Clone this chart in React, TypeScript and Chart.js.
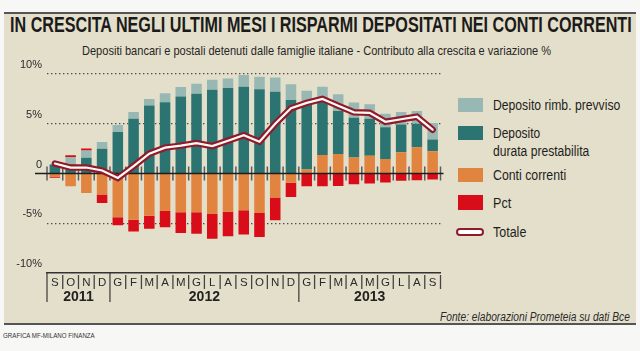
import React, { useEffect, useLayoutEffect, useRef, useState } from 'react';
import { Chart, registerables } from 'chart.js';

Chart.register(...registerables);

// ---------- DATA ----------
const months = ['S', 'O', 'N', 'D', 'G', 'F', 'M', 'A', 'M', 'G', 'L', 'A', 'S', 'O', 'N', 'D', 'G', 'F', 'M', 'A', 'M', 'G', 'L', 'A', 'S'];
const years = ['2011', '2012', '2013'];
const monthsPerYear = [4, 12, 9];

const contiCorrenti = [-0.35, -1.28, -1.95, -2.12, -4.4, -4.65, -4.25, -3.78, -3.9, -3.9, -4.07, -3.85, -3.69, -3.96, -2.42, -0.94, 0.4, 1.85, 1.96, 1.62, 1.79, 1.45, 2.13, 2.64, 2.23];
const depositoDurata = [0.9, 0.9, 1.58, 2.5, 4.17, 5.5, 6.83, 7.17, 7.75, 8.02, 8.42, 8.6, 8.72, 8.46, 8.22, 7.38, 6.75, 5.77, 4.32, 3.98, 3.71, 3.21, 2.8, 2.36, 1.18];
const depositoPreavviso = [0, 0.77, 0.74, 0.67, 0.7, 0.67, 0.67, 0.9, 0.95, 1.0, 1.0, 0.95, 1.18, 1.27, 1.44, 1.58, 1.17, 1.1, 1.69, 1.53, 1.46, 1.35, 1.25, 1.28, 1.66];
const pct = [-0.08, 0.17, 0.2, -0.84, -0.8, -1.18, -1.3, -1.63, -2.08, -2.15, -2.5, -2.45, -2.45, -2.42, -2.28, -1.41, -1.28, -1.28, -1.25, -1.08, -1.01, -0.91, -0.74, -0.68, -0.61];
const totale = [1.0, 0.6, 0.6, 0.3, -0.45, 0.75, 2.0, 2.6, 2.8, 3.05, 2.75, 3.3, 3.85, 3.2, 5.0, 6.55, 7.1, 7.5, 6.8, 6.15, 6.1, 5.2, 5.45, 5.7, 4.4];

const yMin = -10;
const yMax = 10;
const yStep = 5;

// ---------- STYLE ----------
const C_LIGHT = '#97b8b3';
const C_TEAL = '#2b7471';
const C_ORANGE = '#e0843f';
const C_RED = '#d80d19';
const C_LINE = '#8e1a2c';
const C_LINE_IN = '#fff9f4';
const BEIGE = '#e4dfca';
const FONT = '"Liberation Sans", Arial, sans-serif';
const CFONT = '"Liberation Sans Narrow", "Liberation Sans", Arial, sans-serif';

const decor = {
  id: 'decor',
  beforeDatasetDraw(chart: any, args: any) {
    if (args.index !== 5) return;
    const { ctx, chartArea, scales } = chart;
    const x = scales.x;
    const y = scales.y;
    const zy = y.getPixelForValue(0);
    const c0 = x.getPixelForValue(0);
    const w = x.getPixelForValue(1) - c0;
    ctx.save();
    ctx.strokeStyle = '#5c5c5c';
    ctx.lineWidth = 1.5;
    for (let k = 0; k <= months.length; k++) {
      const bx = c0 - w / 2 + w * k;
      ctx.beginPath();
      ctx.moveTo(bx, zy - 7);
      ctx.lineTo(bx, zy + 7);
      ctx.stroke();
    }
    ctx.strokeStyle = '#1e1e1e';
    ctx.lineWidth = 1.6;
    ctx.beginPath();
    ctx.moveTo(chartArea.left - 12, zy);
    ctx.lineTo(chartArea.right + 3, zy);
    ctx.stroke();
    ctx.restore();
  },
  afterDraw(chart: any) {
    const { ctx, chartArea, scales } = chart;
    const x = scales.x;
    const c0 = x.getPixelForValue(0);
    const w = x.getPixelForValue(1) - c0;
    const b = chartArea.bottom;
    const yearBounds: number[] = [0];
    monthsPerYear.forEach((n, i) => yearBounds.push(yearBounds[i] + n));
    ctx.save();
    ctx.strokeStyle = '#444';
    ctx.lineWidth = 1.3;
    for (let k = 0; k <= months.length; k++) {
      const bx = c0 - w / 2 + w * k;
      const isYear = yearBounds.indexOf(k) >= 0 && k < months.length;
      ctx.beginPath();
      if (isYear) {
        ctx.moveTo(bx, b);
        ctx.lineTo(bx, b + 29);
      } else {
        ctx.moveTo(bx, b + 2);
        ctx.lineTo(bx, b + 16);
      }
      ctx.stroke();
    }
    ctx.fillStyle = '#222';
    ctx.font = 'bold 14px ' + FONT;
    ctx.textAlign = 'center';
    ctx.textBaseline = 'middle';
    years.forEach((yr, i) => {
      const l = c0 - w / 2 + w * yearBounds[i];
      const r = c0 - w / 2 + w * yearBounds[i + 1];
      ctx.fillText(yr, (l + r) / 2, b + 24.5);
    });
    ctx.restore();
  },
};

function ChartCanvas() {
  const ref = useRef<HTMLCanvasElement>(null);
  useEffect(() => {
    if (!ref.current) return;
    const barCommon = { stack: 'bars', order: 1, barPercentage: 0.67, categoryPercentage: 1.0, borderWidth: 0 };
    const chart = new Chart(ref.current, {
      type: 'bar',
      data: {
        labels: months,
        datasets: [
          { ...barCommon, type: 'bar', label: 'Conti correnti', data: contiCorrenti, backgroundColor: C_ORANGE },
          { ...barCommon, type: 'bar', label: 'Deposito durata prestabilita', data: depositoDurata, backgroundColor: C_TEAL },
          { ...barCommon, type: 'bar', label: 'Deposito rimb. prevviso', data: depositoPreavviso, backgroundColor: C_LIGHT },
          { ...barCommon, type: 'bar', label: 'Pct', data: pct, backgroundColor: C_RED },
          {
            type: 'line', label: 'Totale (interno)', data: totale, stack: 'l1', order: -1,
            borderColor: C_LINE_IN, borderWidth: 2.2, pointRadius: 0, tension: 0,
            borderCapStyle: 'round', borderJoinStyle: 'miter', fill: false,
          },
          {
            type: 'line', label: 'Totale', data: totale, stack: 'l2', order: 0,
            borderColor: C_LINE, borderWidth: 6.5, pointRadius: 0, tension: 0,
            borderCapStyle: 'round', borderJoinStyle: 'miter', fill: false,
          },
        ] as any,
      },
      options: {
        animation: false,
        responsive: false,
        devicePixelRatio: 1,
        layout: { padding: { left: 0, right: 14.5, top: 19, bottom: 7 } },
        plugins: { legend: { display: false }, tooltip: { enabled: false } },
        scales: {
          x: {
            type: 'category',
            stacked: true,
            offset: true,
            grid: { display: false, drawTicks: false },
            border: { display: true, color: '#333', width: 1.5 },
            ticks: {
              color: '#2a2a2a',
              font: { family: CFONT, size: 11.5 },
              padding: 2.5,
              maxRotation: 0,
              autoSkip: false,
            },
            afterFit: (s: any) => { s.height = 30; },
          },
          y: {
            stacked: true,
            min: yMin,
            max: yMax,
            ticks: {
              stepSize: yStep,
              labelOffset: -9,
              padding: 5,
              color: '#2a2a2a',
              font: { family: CFONT, size: 11 },
              callback: (v: any) => (Number(v) === 0 ? '0' : `${v}%`),
            },
            grid: {
              drawTicks: false,
              lineWidth: 1.2,
              color: (c: any) => (c.tick && (c.tick.value === 0 || c.tick.value === yMin) ? 'rgba(0,0,0,0)' : '#4a4a4a'),
            },
            border: { display: false, dash: [1.4, 2.6] },
            afterFit: (s: any) => { s.width = 47; },
          },
        },
      } as any,
      plugins: [decor],
    });
    return () => chart.destroy();
  }, []);
  return (
    <canvas
      ref={ref}
      width={455}
      height={255}
      style={{ position: 'absolute', left: 0, top: 55, width: 455, height: 255 }}
    />
  );
}

function FitText(props: {
  text: string; left: number; top: number; width: number; fontSize: number;
  weight?: number; italic?: boolean; color?: string;
}) {
  const { text, left, top, width, fontSize, weight = 400, italic = false, color = '#222' } = props;
  const ref = useRef<HTMLSpanElement>(null);
  const [scale, setScale] = useState(1);
  useLayoutEffect(() => {
    if (ref.current) {
      const w = ref.current.offsetWidth;
      if (w > 0) setScale(width / w);
    }
  }, [text, width, fontSize]);
  return (
    <div style={{ position: 'absolute', left, top, height: fontSize, lineHeight: `${fontSize}px`, whiteSpace: 'nowrap' }}>
      <span
        ref={ref}
        style={{
          display: 'inline-block', fontFamily: FONT, fontSize, fontWeight: weight,
          fontStyle: italic ? 'italic' : 'normal', color, lineHeight: `${fontSize}px`,
          transform: `scaleX(${scale})`, transformOrigin: '0 50%',
        }}
      >
        {text}
      </span>
    </div>
  );
}

function Swatch({ left, top, color, h = 14 }: { left: number; top: number; color: string; h?: number }) {
  return <div style={{ position: 'absolute', left, top, width: 25, height: h, background: color }} />;
}

export default function App() {
  return (
    <div style={{ position: 'fixed', left: 0, top: 0, width: 640, height: 351, background: '#f7f7f5', overflow: 'hidden' }}>
      <div
        style={{
          position: 'absolute', left: 4, top: 12, width: 632, height: 313, background: BEIGE,
          borderTop: '2px solid #555', borderBottom: '2px solid #555', boxSizing: 'border-box',
        }}
      />
      <FitText text="IN CRESCITA NEGLI ULTIMI MESI I RISPARMI DEPOSITATI NEI CONTI CORRENTI" left={10} top={14} width={622} fontSize={22} weight={700} color="#1b1b1b" />
      <FitText text="Depositi bancari e postali detenuti dalle famiglie italiane - Contributo alla crescita e variazione %" left={82} top={42.5} width={469} fontSize={13} color="#262626" />
      <ChartCanvas />
      {/* legend */}
      <Swatch left={458} top={98} color={C_LIGHT} />
      <FitText text="Deposito rimb. prevviso" left={493} top={98} width={127} fontSize={14} color="#1e1e1e" />
      <Swatch left={458} top={126} color={C_TEAL} />
      <FitText text="Deposito" left={493} top={126} width={47} fontSize={14} color="#1e1e1e" />
      <FitText text="durata prestabilita" left={493} top={144} width={96} fontSize={14} color="#1e1e1e" />
      <Swatch left={458} top={168} color={C_ORANGE} />
      <FitText text="Conti correnti" left={493} top={168} width={73} fontSize={14} color="#1e1e1e" />
      <Swatch left={458} top={195} color={C_RED} h={15} />
      <FitText text="Pct" left={493} top={196} width={18} fontSize={14} color="#1e1e1e" />
      <div
        style={{
          position: 'absolute', left: 456, top: 228, width: 28, height: 8, boxSizing: 'border-box',
          border: `2px solid ${C_LINE}`, borderRadius: 4, background: '#fff',
        }}
      />
      <FitText text="Totale" left={493} top={225} width={33} fontSize={14} color="#1e1e1e" />
      {/* footer */}
      <FitText text="Fonte: elaborazioni Prometeia su dati Bce" left={440} top={310} width={190} fontSize={12} italic color="#2a2a2a" />
      <FitText text="GRAFICA MF-MILANO FINANZA" left={3} top={328.5} width={92} fontSize={8} color="#333" />
    </div>
  );
}
